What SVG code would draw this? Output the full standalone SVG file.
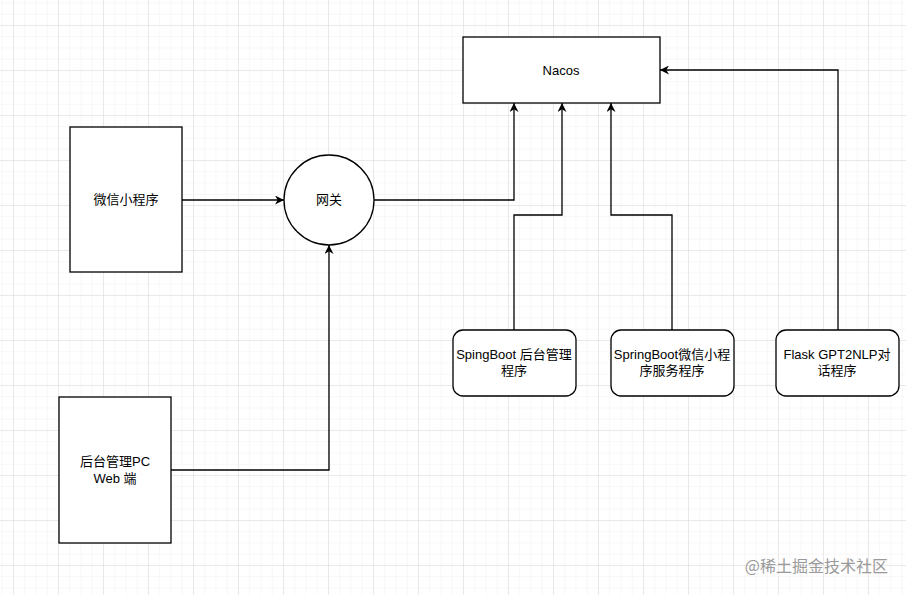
<svg xmlns="http://www.w3.org/2000/svg" width="906" height="595" viewBox="0 0 906 595">
<defs>
<pattern id="minor" x="13" y="25" width="11.25" height="11.25" patternUnits="userSpaceOnUse"><path d="M0 0H11.25M0 0V11.25" stroke="#f0f0f0" stroke-width="1" fill="none"/></pattern>
<pattern id="major" x="13" y="25" width="45" height="45" patternUnits="userSpaceOnUse"><path d="M0 0H45M0 0V45" stroke="#dcdcdc" stroke-width="1" fill="none"/></pattern>
<marker id="ar" viewBox="0 0 10 10" refX="10" refY="5" markerWidth="9" markerHeight="9" markerUnits="userSpaceOnUse" orient="auto"><path d="M0 0L10 5L0 10L3 5Z" fill="#000"/></marker>
</defs>
<style>
.n{fill:#fff;stroke:#000;stroke-width:1.3}
.t{font-family:"Liberation Sans","Noto Sans CJK SC",sans-serif;font-size:13px;text-anchor:middle;fill:#000}
.c{fill:none;stroke:#000;stroke-width:1.3;marker-end:url(#ar)}
</style>
<rect width="906" height="595" fill="#fff"/>
<rect width="906" height="595" fill="url(#minor)"/>
<rect width="906" height="595" fill="url(#major)"/>
<g id="connectors">
<path class="c" d="M182 200H284"/>
<path class="c" d="M171 470H329V245"/>
<path class="c" d="M374 200H514V103"/>
<path class="c" d="M514 330V215H562V103"/>
<path class="c" d="M672 330V215H611V103"/>
<path class="c" d="M838 330V70H660"/>
</g>
<g id="wx"><rect class="n" x="70" y="127" width="112" height="145"/><text class="t" x="126" y="204">微信小程序</text></g>
<g id="pc"><rect class="n" x="59" y="397" width="112" height="146"/><text class="t" x="115" y="466">后台管理PC</text><text class="t" x="115" y="483">Web 端</text></g>
<g id="gw"><circle class="n" cx="329" cy="200" r="45"/><text class="t" x="329" y="204">网关</text></g>
<g id="nacos"><rect class="n" x="463" y="37" width="197" height="66"/><text class="t" x="561" y="75">Nacos</text></g>
<g id="sb1"><rect class="n" x="453" y="330" width="123" height="66" rx="10"/><text class="t" x="514" y="359">SpingBoot 后台管理</text><text class="t" x="514" y="375">程序</text></g>
<g id="sb2"><rect class="n" x="611" y="330" width="123" height="66" rx="10"/><text class="t" x="672" y="359">SpringBoot微信小程</text><text class="t" x="672" y="375">序服务程序</text></g>
<g id="flask"><rect class="n" x="776" y="330" width="123" height="66" rx="10"/><text class="t" x="837" y="359">Flask GPT2NLP对</text><text class="t" x="837" y="375">话程序</text></g>
<text x="888" y="572" style="font-family:'Noto Sans CJK SC',sans-serif;font-size:16px;text-anchor:end;fill:#9a9a9a">@稀土掘金技术社区</text>
</svg>
